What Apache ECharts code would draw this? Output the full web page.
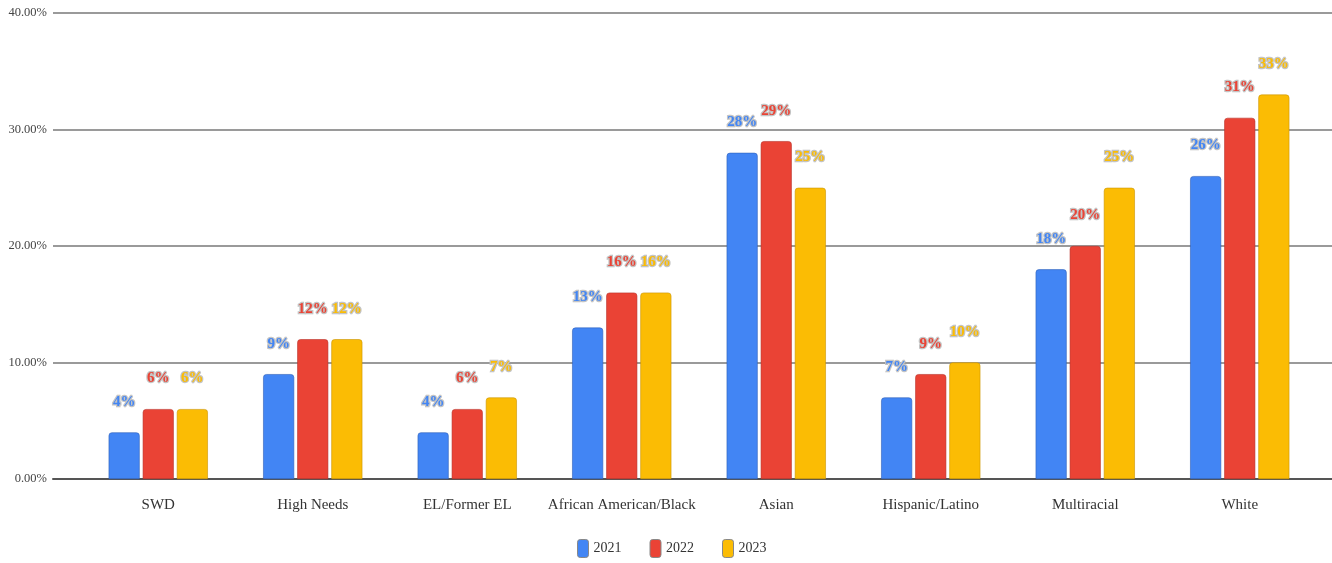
<!DOCTYPE html>
<html>
<head>
<meta charset="utf-8">
<script src="https://cdn.jsdelivr.net/npm/echarts@6/dist/echarts.min.js"></script>
<style>
  html, body { margin: 0; padding: 0; background: #ffffff; }
  #chart { width: 1332px; height: 563px; }
</style>
</head>
<body>
<div id="chart"></div>
<script>
// Student groups and yearly rates (percent)
const categories = ['SWD', 'High Needs', 'EL/Former EL', 'African American/Black', 'Asian', 'Hispanic/Latino', 'Multiracial', 'White'];
const years = ['2021', '2022', '2023'];
const values2021 = [4, 9, 4, 13, 28, 7, 18, 26];
const values2022 = [6, 12, 6, 16, 29, 9, 20, 31];
const values2023 = [6, 12, 7, 16, 25, 10, 25, 33];
const yTicks = { min: 0, max: 40, interval: 10 };

const colors = ['#4285f4', '#ea4335', '#fbbc04'];
const borders = ['#2f5fb8', '#b8322a', '#c99400'];
const serif = '"Liberation Serif", "DejaVu Serif", serif';

const chart = echarts.init(document.getElementById('chart'));

function barSeries(idx, data) {
  return {
    name: years[idx],
    type: 'bar',
    xAxisIndex: 1,
    yAxisIndex: 1,
    data: data,
    barWidth: 31,
    barGap: '10%',
    itemStyle: {
      color: colors[idx],
      borderColor: borders[idx],
      borderWidth: 0.6,
      borderRadius: [3, 3, 0, 0]
    },
    label: {
      show: true,
      position: 'top',
      distance: 23,
      formatter: p => p.value + '%',
      fontFamily: serif,
      fontSize: 15,
      fontWeight: 'bold',
      color: colors[idx],
      textBorderColor: '#c4c4c4',
      textBorderWidth: 2.5
    }
  };
}

chart.setOption({
  animation: false,
  backgroundColor: '#ffffff',
  legend: {
    data: years.map((y, i) => ({ name: y, itemStyle: { color: colors[i], borderColor: '#888', borderWidth: 1 } })),
    bottom: 5,
    padding: 0,
    left: 577,
    itemWidth: 11,
    itemHeight: 18,
    itemGap: 28,
    icon: 'roundRect',
    textStyle: { fontFamily: serif, fontSize: 14, color: '#333' }
  },
  grid: [
    { left: 53, right: 0, top: 13, bottom: 84 },
    { left: 81, right: 15, top: 13, bottom: 84 }
  ],
  xAxis: [
    {
      gridIndex: 0, type: 'value', min: 0, max: 1,
      axisLabel: { show: false }, axisTick: { show: false }, splitLine: { show: false },
      axisLine: { show: true, lineStyle: { color: '#555', width: 2 } }
    },
    {
      gridIndex: 1, type: 'category', data: categories,
      axisLine: { show: false }, axisTick: { show: false },
      axisLabel: { fontFamily: serif, fontSize: 15, color: '#333', margin: 19, interval: 0 }
    }
  ],
  yAxis: [
    {
      gridIndex: 0, type: 'value', min: yTicks.min, max: yTicks.max, interval: yTicks.interval,
      axisLine: { show: false }, axisTick: { show: false },
      axisLabel: { formatter: v => v.toFixed(2) + '%', fontFamily: serif, fontSize: 12.5, color: '#444', margin: 6 },
      splitLine: { lineStyle: { color: '#9a9a9a', width: 2 } }
    },
    {
      gridIndex: 1, type: 'value', min: yTicks.min, max: yTicks.max, interval: yTicks.interval,
      show: false
    }
  ],
  series: [
    barSeries(0, values2021),
    barSeries(1, values2022),
    barSeries(2, values2023)
  ]
});
</script>
</body>
</html>
